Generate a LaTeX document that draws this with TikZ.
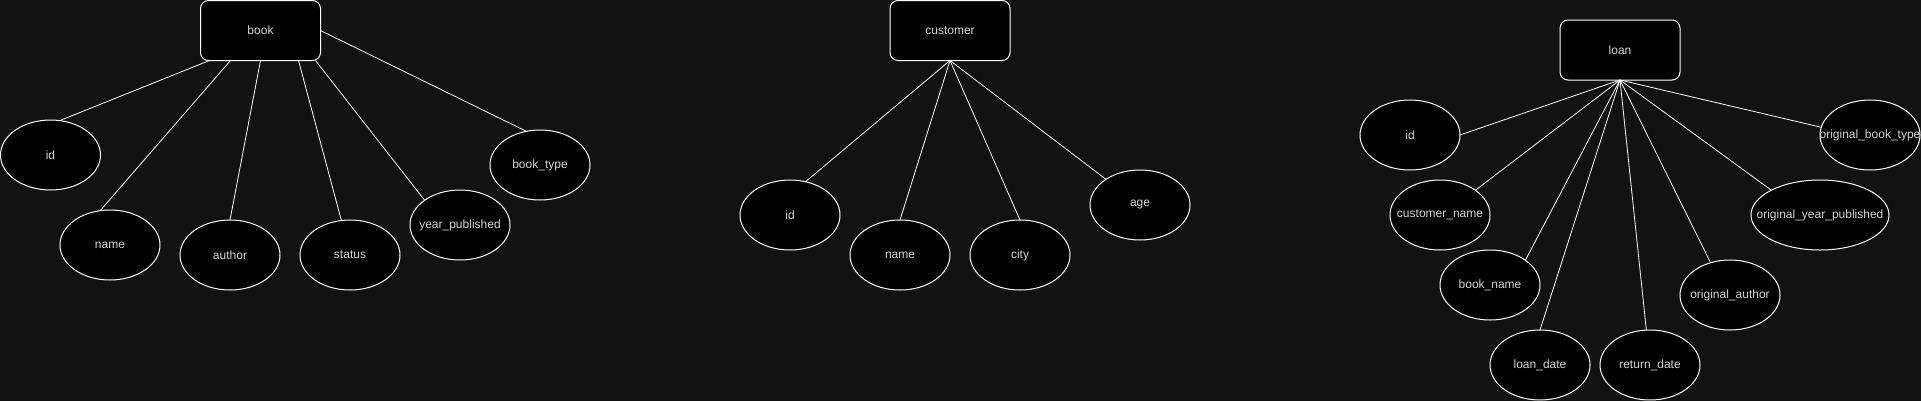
\documentclass[tikz,border=0pt]{standalone}
\usepackage{fontspec}
\setmainfont{Liberation Sans}
\definecolor{bgdark}{HTML}{121212}
\definecolor{labelgrey}{HTML}{D4D4D4}
\tikzset{
  entity/.style={draw=white, fill=black, rounded corners=6pt, line width=0.75pt,
    minimum width=90pt, minimum height=45pt, outer sep=0pt, text=labelgrey, font=\fontsize{9}{11}\selectfont},
  attr/.style={ellipse, draw=white, fill=black, line width=0.75pt, inner sep=0pt, outer sep=0pt,
    minimum width=75pt, minimum height=52.5pt, text=labelgrey, font=\fontsize{9}{11}\selectfont,
    execute at begin node={\hbox to 0pt\bgroup\hss}, execute at end node={\hss\egroup}},
  link/.style={draw=white, line width=0.6pt}
}
\usetikzlibrary{shapes.geometric}
\begin{document}
\begin{tikzpicture}[x=0.75pt, y=-0.75pt]
  \fill[bgdark] (0,0) rectangle (1921,401);
  \useasboundingbox (0,0) rectangle (1921,401);

  \node[entity] (book) at (260.5,30.5) {book};
  \node[attr] (book-id) at (50.5,155) {id};
  \node[attr] (book-name) at (110,245) {name};
  \node[attr] (book-author) at (230,255) {author};
  \node[attr] (book-status) at (350,255) {status};
  \node[attr] (book-year) at (460,225) {year\_published};
  \node[attr] (book-type) at (540,165) {book\_type};
  \draw[link] ([xshift=-38.25pt]book.south) -- (book-id.75);
  \draw[link] ([xshift=-22.5pt]book.south) -- (book-name.106);
  \draw[link] (book.south) -- (book-author.north);
  \draw[link] ([xshift=28.5pt]book.south) -- (book-status.104);
  \draw[link] ([xshift=41.25pt]book.south) -- (book-year.145);
  \draw[link] (book.east) -- (book-type.112);

  \node[entity] (customer) at (950,30.5) {customer};
  \node[attr] (cust-id) at (790,215) {id};
  \node[attr] (cust-name) at (900,255) {name};
  \node[attr] (cust-city) at (1020,255) {city};
  \node[attr] (cust-age) at (1140,205) {age};
  \draw[link] (customer.south) -- (cust-id.65);
  \draw[link] (customer.south) -- (cust-name.north);
  \draw[link] (customer.south) -- (cust-city.north);
  \draw[link] (customer.south) -- (cust-age.143);

  \node[entity] (loan) at (1620,50) {loan};
  \node[attr] (loan-id) at (1410,135) {id};
  \node[attr] (loan-cname) at (1440,215) {customer\_name};
  \node[attr] (loan-bname) at (1490,285) {book\_name};
  \node[attr] (loan-date) at (1540,365) {loan\_date};
  \node[attr] (loan-return) at (1650,365) {return\_date};
  \node[attr] (loan-author) at (1730,295) {original\_author};
  \node[attr, minimum width=103.5pt] (loan-year) at (1820,215) {original\_year\_published};
  \node[attr] (loan-type) at (1870,135) {original\_book\_type};
  \draw[link] (loan.south) -- (loan-id.east);
  \draw[link] (loan.south) -- (loan-cname.35);
  \draw[link] (loan.south) -- (loan-bname.35);
  \draw[link] (loan.south) -- (loan-date.north);
  \draw[link] (loan.south) -- (loan-return.96);
  \draw[link] (loan.south) -- (loan-author.121);
  \draw[link] (loan.south) -- (loan-year.153);
  \draw[link] (loan.south) -- (loan-type.171);
\end{tikzpicture}
\end{document}
